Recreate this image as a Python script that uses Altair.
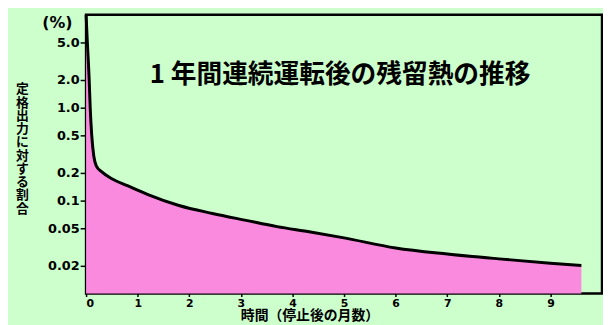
import altair as alt
import pandas as pd

# Residual heat curve (months after shutdown, % of rated power)
months = [0.0, 0.025, 0.06, 0.08, 0.11, 0.15, 0.2, 0.3, 0.5, 0.8, 1.2, 1.8, 2.45,
          3.1, 3.7, 4.35, 5.0, 6.0, 7.0, 8.0, 9.0, 9.6]
percent = [10.0, 5.0, 2.0, 1.0, 0.5, 0.30, 0.235, 0.205, 0.172, 0.145, 0.116, 0.0885,
           0.0727, 0.0613, 0.0525, 0.046, 0.0397, 0.0309, 0.0266, 0.0236, 0.0212, 0.020]

y_ticks = [5.0, 2.0, 1.0, 0.5, 0.2, 0.1, 0.05, 0.02]
x_ticks = [0, 1, 2, 3, 4, 5, 6, 7, 8, 9]

chart_title = "1 年間連続運転後の残留熱の推移"
y_title = "定格出力に対する割合"
x_title = "時間（停止後の月数）"
unit_label = "(%)"

df = pd.DataFrame({"m": months, "v": percent})

BG = "#CCFFCC"
PINK = "#F98ADD"
NUM_FONT = "DejaVu Sans"
JP_FONT = "Noto Sans CJK JP"

x_enc = alt.X("m:Q", scale=alt.Scale(domain=[0, 10], nice=False),
              axis=alt.Axis(values=x_ticks, title=x_title, grid=False, domain=False,
                            tickColor="black", tickSize=3, tickWidth=1.5,
                            labelFont=NUM_FONT, labelFontWeight="bold", labelFontSize=11,
                            labelColor="black", labelPadding=1, labelBaseline="top",
                            titleFont=JP_FONT, titleFontWeight="bold", titleFontSize=14,
                            titleColor="black", titleX=226, titleY=29,
                            titleBaseline="bottom"))

y_scale = alt.Scale(type="log", domain=[0.01, 10], nice=False)

area = alt.Chart(df).mark_area(color=PINK, opacity=1).encode(
    x=x_enc,
    y=alt.Y("v:Q", scale=y_scale,
            axis=alt.Axis(values=y_ticks, grid=False, domain=False,
                          labelExpr="datum.value >= 1 ? format(datum.value, '.1f') : format(datum.value, '.2~f')",
                          tickColor="black", tickSize=6, tickWidth=1.5,
                          labelFont=NUM_FONT, labelFontWeight="bold", labelFontSize=13,
                          labelColor="black", labelPadding=1,
                          title=list(y_title), titleAngle=0, titleAlign="center",
                          titleBaseline="top", titleX=-65, titleY=69,
                          titleFont=JP_FONT, titleFontWeight="bold", titleFontSize=13,
                          titleLineHeight=13.4, titleColor="black")),
    y2=alt.datum(0.01),
)

line = alt.Chart(df).mark_line(color="black", strokeWidth=3, interpolate="monotone").encode(
    x="m:Q", y=alt.Y("v:Q", scale=y_scale)
)

title_df = pd.DataFrame({"t": [chart_title]})
title_mark = alt.Chart(title_df).mark_text(
    font=JP_FONT, fontWeight="bold", fontSize=26, color="black",
    align="center", baseline="middle"
).encode(text="t:N", x=alt.value(257), y=alt.value(61))

unit_df = pd.DataFrame({"t": [unit_label]})
unit_mark = alt.Chart(unit_df).mark_text(
    font=NUM_FONT, fontWeight="bold", fontSize=16, color="black",
    align="center", baseline="middle"
).encode(text="t:N", x=alt.value(-29), y=alt.value(8))

chart = alt.layer(area, line, title_mark, unit_mark).properties(
    width=522, height=282,
    autosize=alt.AutoSizeParams(type="none"),
    padding={"left": 79, "top": 5, "right": 1, "bottom": 30},
    background=BG,
).configure_view(stroke="black", strokeWidth=2.5, fill=BG)

chart.save("out.html", embed_options={"renderer": "svg", "actions": False})
